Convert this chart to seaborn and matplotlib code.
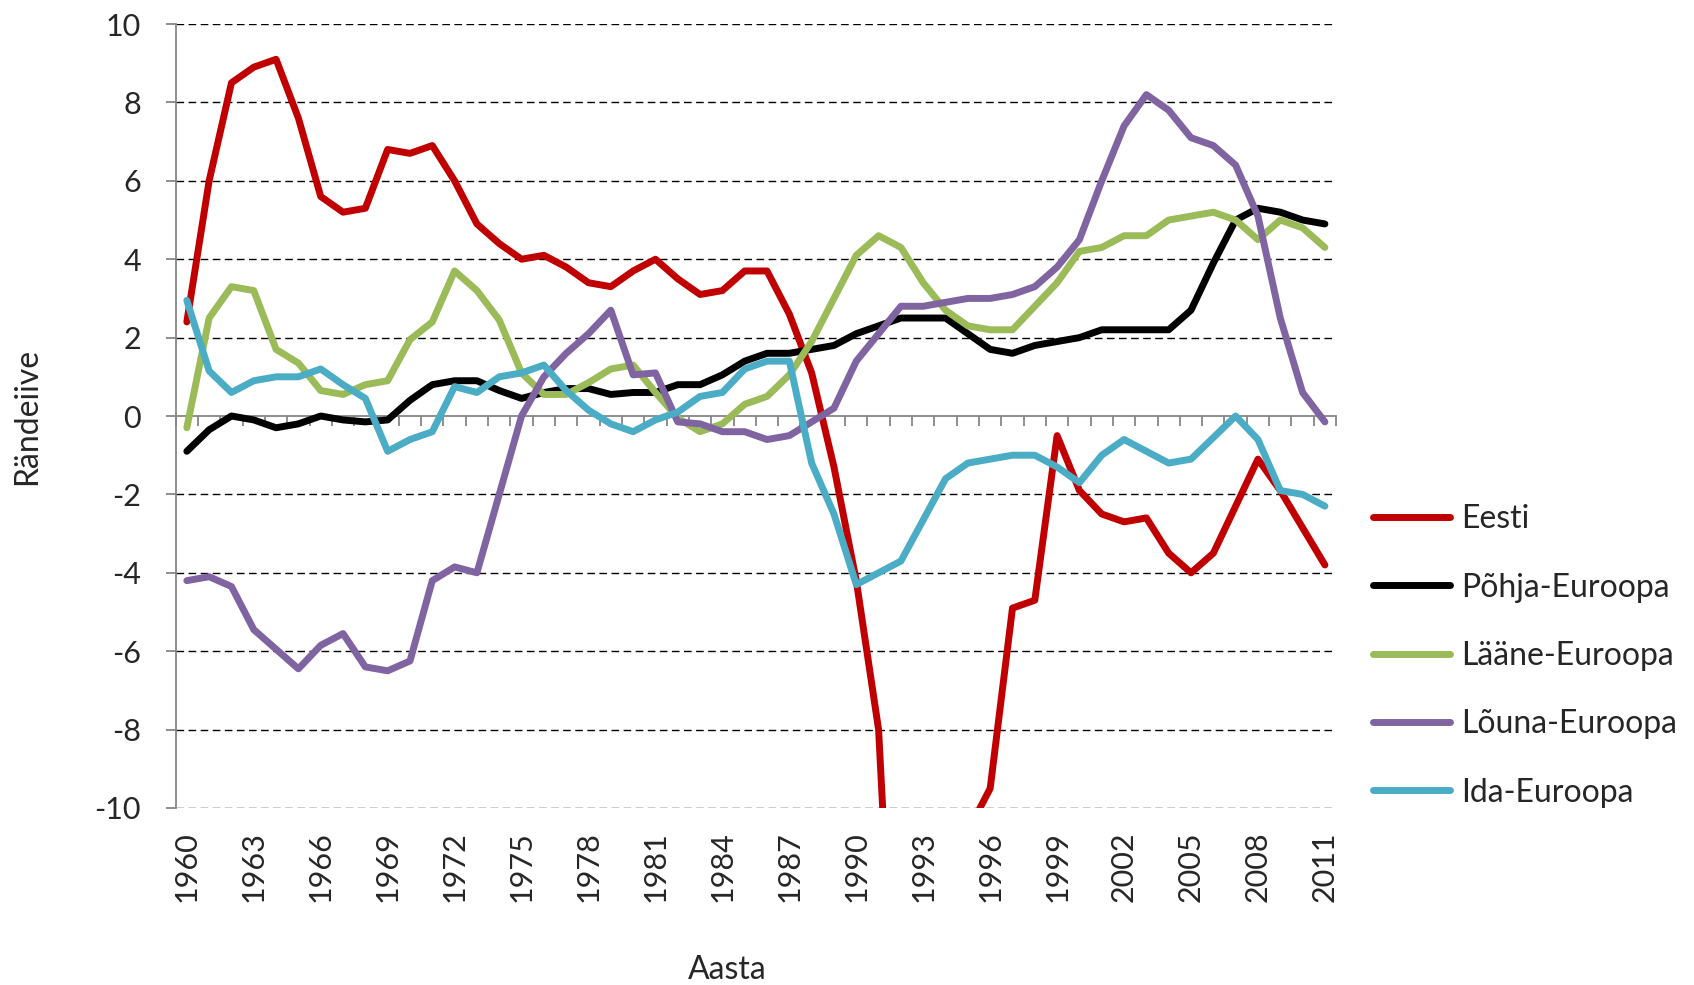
import numpy as np
import pandas as pd
import matplotlib
matplotlib.use('Agg')
import matplotlib.pyplot as plt
import seaborn as sns

# Rändeiive (net migration) by region
years = list(range(1960, 2012))

eesti = [2.4, 6.0, 8.5, 8.9, 9.1, 7.6, 5.6, 5.2, 5.3, 6.8,
         6.7, 6.9, 6.0, 4.9, 4.4, 4.0, 4.1, 3.8, 3.4, 3.3,
         3.7, 4.0, 3.5, 3.1, 3.2, 3.7, 3.7, 2.6, 1.1, -1.3,
         -4.2, -8.0, -19.0, -16.0, -13.0, -10.6, -9.5, -4.9, -4.7, -0.5,
         -1.9, -2.5, -2.7, -2.6, -3.5, -4.0, -3.5, -2.3, -1.1, -1.9,
         -2.85, -3.8]

pohja = [-0.9, -0.35, 0.0, -0.1, -0.3, -0.2, 0.0, -0.1, -0.15, -0.1,
         0.4, 0.8, 0.9, 0.9, 0.65, 0.45, 0.6, 0.7, 0.7, 0.55,
         0.6, 0.6, 0.8, 0.8, 1.05, 1.4, 1.6, 1.6, 1.7, 1.8,
         2.1, 2.3, 2.5, 2.5, 2.5, 2.1, 1.7, 1.6, 1.8, 1.9,
         2.0, 2.2, 2.2, 2.2, 2.2, 2.7, 3.9, 5.0, 5.3, 5.2,
         5.0, 4.9]

laane = [-0.3, 2.5, 3.3, 3.2, 1.7, 1.35, 0.65, 0.55, 0.8, 0.9,
         1.95, 2.4, 3.7, 3.2, 2.45, 1.1, 0.55, 0.55, 0.85, 1.2,
         1.3, 0.6, -0.05, -0.4, -0.2, 0.3, 0.5, 1.05, 1.9, 3.0,
         4.1, 4.6, 4.3, 3.4, 2.7, 2.3, 2.2, 2.2, 2.8, 3.4,
         4.2, 4.3, 4.6, 4.6, 5.0, 5.1, 5.2, 5.0, 4.5, 5.0,
         4.8, 4.3]

louna = [-4.2, -4.1, -4.35, -5.45, -5.95, -6.45, -5.85, -5.55, -6.4, -6.5,
         -6.25, -4.2, -3.85, -4.0, -2.0, 0.0, 1.0, 1.6, 2.1, 2.7,
         1.05, 1.1, -0.15, -0.2, -0.4, -0.4, -0.6, -0.5, -0.15, 0.2,
         1.4, 2.1, 2.8, 2.8, 2.9, 3.0, 3.0, 3.1, 3.3, 3.8,
         4.5, 6.0, 7.4, 8.2, 7.8, 7.1, 6.9, 6.4, 5.1, 2.5,
         0.6, -0.15]

ida = [2.95, 1.15, 0.6, 0.9, 1.0, 1.0, 1.2, 0.8, 0.45, -0.9,
       -0.6, -0.4, 0.75, 0.6, 1.0, 1.1, 1.3, 0.65, 0.15, -0.2,
       -0.4, -0.1, 0.1, 0.5, 0.6, 1.2, 1.4, 1.4, -1.2, -2.5,
       -4.3, -4.0, -3.7, -2.65, -1.6, -1.2, -1.1, -1.0, -1.0, -1.3,
       -1.7, -1.0, -0.6, -0.9, -1.2, -1.1, -0.55, 0.0, -0.6, -1.9,
       -2.0, -2.3]

region_names = ['Eesti', 'Põhja-Euroopa', 'Lääne-Euroopa', 'Lõuna-Euroopa', 'Ida-Euroopa']
region_colors = ['#C00000', '#000000', '#9BBB59', '#8064A2', '#4BACC6']

# long form table for seaborn
series = [eesti, pohja, laane, louna, ida]
df = pd.concat(
    [pd.DataFrame({'Aasta': years, 'Rändeiive': vals, 'Piirkond': name})
     for name, vals in zip(region_names, series)],
    ignore_index=True)

sns.set_style('white')
plt.rcParams['font.family'] = ['Lato', 'DejaVu Sans']
plt.rcParams['axes.unicode_minus'] = False

fig = plt.figure(figsize=(16.94, 9.85), dpi=100)
ax = fig.add_axes([0.1037, 0.1797, 0.6850, 0.7959])

sns.lineplot(data=df, x='Aasta', y='Rändeiive', hue='Piirkond',
             hue_order=region_names, palette=region_colors,
             linewidth=5, solid_joinstyle='round', errorbar=None, ax=ax)

ax.set_xlim(years[0] - 0.5, years[-1] + 0.5)
ax.set_ylim(-10, 10)

# y axis: dashed grid, gray spine
yticks = list(range(-10, 11, 2))
ax.set_yticks(yticks)
ax.set_yticklabels([str(t) for t in yticks])
ax.yaxis.grid(True, color='black', linestyle=(0, (5.5, 3.2)), linewidth=1.0)
for t, tick in zip(ax.get_yticks(), ax.yaxis.get_major_ticks()):
    if t == 0:
        tick.gridline.set_visible(False)
ax.xaxis.grid(False)
ax.tick_params(axis='y', length=7, width=1.3, color='#868686', pad=18,
               labelsize=22, direction='out', left=True)

for s in ['top', 'right', 'bottom']:
    ax.spines[s].set_visible(False)
ax.spines['left'].set_color('#868686')
ax.spines['left'].set_linewidth(1.3)

# year labels at the bottom, every third year
ax.set_xticks(years[::3])
ax.set_xticklabels([str(y) for y in years[::3]], rotation=90)
ax.tick_params(axis='x', length=0, pad=17, labelsize=22)

# category axis line at zero with tick marks between years
zero_axis = ax.secondary_xaxis(0, transform=ax.transData)
zero_axis.set_xticks(list(np.array(years) - 0.5) + [years[-1] + 0.5])
zero_axis.tick_params(axis='x', direction='out', length=7, width=1.3,
                      color='#868686', labelbottom=False, labeltop=False)
for s in zero_axis.spines.values():
    s.set_color('#868686')
    s.set_linewidth(1.3)

ax.set_ylabel('Rändeiive', fontsize=23)
ax.yaxis.set_label_coords(-0.115, 0.5)
ax.set_xlabel('Aasta', fontsize=23)
ax.xaxis.set_label_coords(0.475, -0.1875)

handles, labels = ax.get_legend_handles_labels()
ax.get_legend().remove()
fig.legend(handles, labels, loc='center left',
           bbox_to_anchor=(1373 / 1694, 1 - 656 / 985),
           frameon=False, fontsize=23, handlelength=2.4, handletextpad=0.35,
           labelspacing=1.2, borderpad=0, borderaxespad=0)

fig.savefig('out.png', dpi=100)
